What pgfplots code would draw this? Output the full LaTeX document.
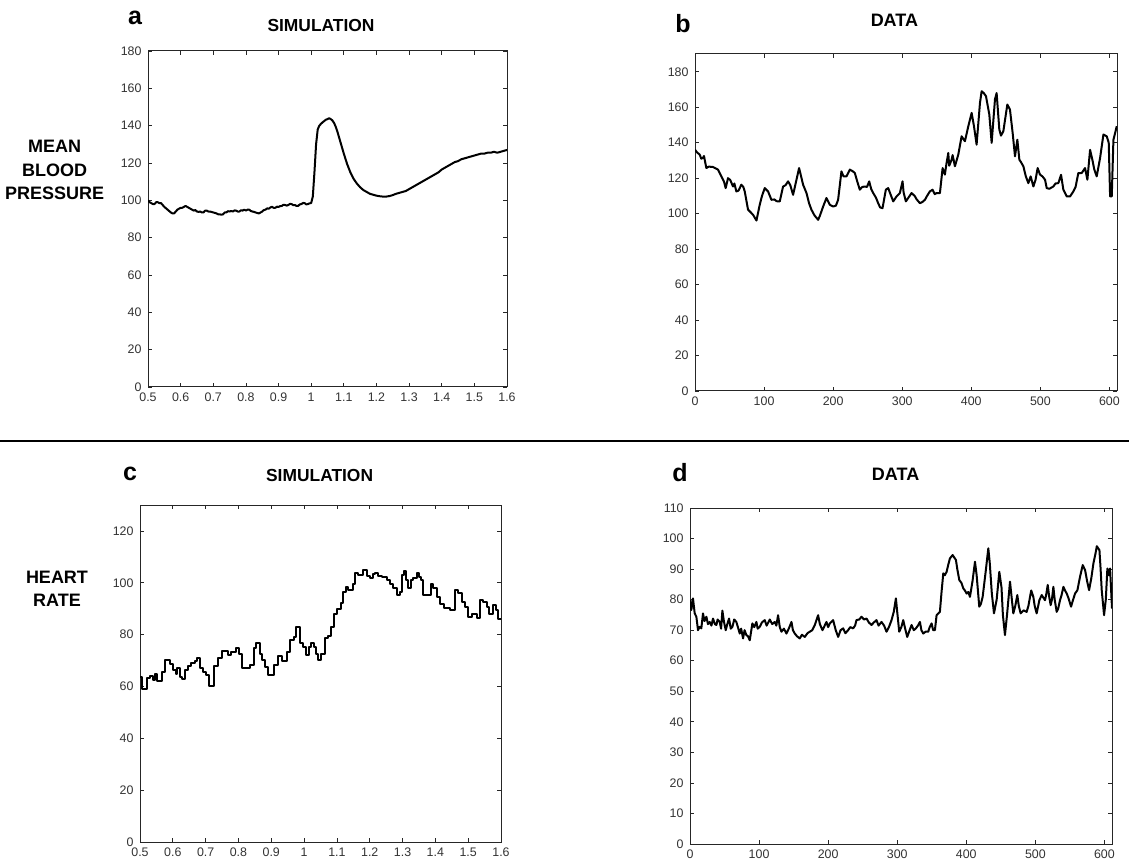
\documentclass[border=0pt]{standalone}
\usepackage{fontspec}
\setmainfont{Liberation Sans}
\usepackage{pgfplots}
\pgfplotsset{compat=1.18}
\pgfplotsset{mat/.style={
  scale only axis, anchor=south west,
  axis line style={line width=0.5pt, black!85},
  every tick/.style={line width=0.4pt, black!85},
  major tick length=2pt,
  tick align=inside,
  tick label style={font=\fontsize{6.2}{7}\selectfont, text=black!80},
  /pgf/number format/assume math mode=true,
  xticklabel style={yshift=0.8pt, text height=4.6pt, text depth=0pt},
  yticklabel style={xshift=0.3pt},
  clip=true,
}}
\pgfplotsset{crv/.style={black, line width=1pt, line join=round}}
\begin{document}
\begin{tikzpicture}
\useasboundingbox (0pt,0pt) rectangle (564.5pt,431.5pt);
% divider
\draw[line width=1pt] (0pt,211.1pt) -- (564.5pt,211.1pt);
% labels
\node[anchor=base, font=\bfseries\fontsize{12.5}{14}\selectfont, inner sep=0] at (67.5pt,419pt) {a};
\node[anchor=base, font=\bfseries\fontsize{8.7}{10}\selectfont, inner sep=0] at (160.5pt,415.5pt) {SIMULATION};
\node[anchor=base, font=\bfseries\fontsize{12.5}{14}\selectfont, inner sep=0] at (341.5pt,415pt) {b};
\node[anchor=base, font=\bfseries\fontsize{9}{10}\selectfont, inner sep=0] at (447.2pt,418.2pt) {DATA};
\node[anchor=base, font=\bfseries\fontsize{12.5}{14}\selectfont, inner sep=0] at (65pt,191.5pt) {c};
\node[anchor=base, font=\bfseries\fontsize{8.7}{10}\selectfont, inner sep=0] at (159.8pt,190.5pt) {SIMULATION};
\node[anchor=base, font=\bfseries\fontsize{12.5}{14}\selectfont, inner sep=0] at (340pt,190.5pt) {d};
\node[anchor=base, font=\bfseries\fontsize{9}{10}\selectfont, inner sep=0] at (447.8pt,191.5pt) {DATA};
\node[anchor=base, font=\bfseries\fontsize{9}{10}\selectfont, inner sep=0] at (27.3pt,355pt) {MEAN};
\node[anchor=base, font=\bfseries\fontsize{9}{10}\selectfont, inner sep=0] at (27.3pt,343pt) {BLOOD};
\node[anchor=base, font=\bfseries\fontsize{9}{10}\selectfont, inner sep=0] at (27.3pt,331.5pt) {PRESSURE};
\node[anchor=base, font=\bfseries\fontsize{9}{10}\selectfont, inner sep=0] at (28.5pt,140pt) {HEART};
\node[anchor=base, font=\bfseries\fontsize{9}{10}\selectfont, inner sep=0] at (28.5pt,128.5pt) {RATE};

% Panel a
\begin{axis}[mat, at={(74pt,238pt)}, width=179.5pt, height=168pt,
  xmin=0.5, xmax=1.6, ymin=0, ymax=180,
  xtick={0.5,0.6,0.7,0.8,0.9,1.0,1.1,1.2,1.3,1.4,1.5,1.6},
  xticklabels={0.5,0.6,0.7,0.8,0.9,1,1.1,1.2,1.3,1.4,1.5,1.6},
  ytick={0,20,...,180}]
\addplot[crv] coordinates {
(0.50,100) (0.505,99) (0.51,98.5) (0.515,98) (0.52,98) (0.525,99) (0.53,99) (0.535,98.5) (0.54,98.5)
(0.55,96.5) (0.56,95) (0.57,93.5) (0.575,93) (0.58,93) (0.585,94) (0.59,95) (0.595,95.5) (0.60,96) (0.605,96) (0.61,96.5) (0.615,97) (0.62,96.5)
(0.63,95.5) (0.64,94.5) (0.645,94.8) (0.65,94) (0.655,93.8) (0.66,94) (0.665,93.5) (0.67,93.5) (0.675,94.5) (0.68,94.5) (0.685,94) (0.69,94) (0.70,93.5)
(0.71,93) (0.715,92.5) (0.72,92.5) (0.725,92.3) (0.73,92.5) (0.735,93.5) (0.74,93.5) (0.745,94.2) (0.75,94) (0.755,94.3) (0.76,94) (0.765,94.6) (0.77,94.5)
(0.775,94) (0.78,94) (0.785,94.7) (0.79,94.5) (0.795,95) (0.80,94.5) (0.805,95) (0.81,95) (0.815,94.3) (0.82,94) (0.825,93.8) (0.83,93.5) (0.835,93.2) (0.84,93)
(0.845,93.5) (0.85,94) (0.855,94.8) (0.86,95) (0.865,95.7) (0.87,95.5) (0.875,96.2) (0.88,96.5) (0.885,96) (0.89,96) (0.895,96.6) (0.90,96.5)
(0.905,96.9) (0.91,97) (0.915,97.6) (0.92,97.5) (0.925,97.2) (0.93,97.5) (0.935,98.1) (0.94,98) (0.945,97.4) (0.95,97.5) (0.955,97) (0.96,97)
(0.965,97.8) (0.97,98) (0.975,98.6) (0.98,98.5) (0.985,97.8) (0.99,98) (0.995,98.4) (1.00,98.5) (1.005,102) (1.01,115) (1.015,130) (1.02,138)
(1.025,140) (1.03,141) (1.035,141.8) (1.04,142.5) (1.045,143.2) (1.05,143.5) (1.055,144) (1.06,143.5) (1.065,142.8) (1.07,141.5) (1.075,139.5) (1.08,137)
(1.085,134) (1.09,131) (1.10,125) (1.11,119.5) (1.12,115) (1.13,111.5) (1.14,109) (1.15,107) (1.16,105.5) (1.17,104.5) (1.18,103.5) (1.19,103)
(1.20,102.5) (1.21,102.2) (1.22,102) (1.23,102) (1.24,102.3) (1.25,102.8) (1.26,103.5) (1.27,104) (1.28,104.5) (1.29,105) (1.30,106)
(1.31,107) (1.32,108) (1.33,109) (1.34,110) (1.35,111) (1.36,112) (1.37,113) (1.38,114) (1.39,115) (1.40,116.5) (1.41,117.5) (1.42,118.5)
(1.43,119.5) (1.44,120.5) (1.45,121) (1.46,122) (1.47,122.5) (1.48,123) (1.49,123.5) (1.50,124) (1.51,124.5) (1.52,125) (1.53,125)
(1.54,125.5) (1.55,125.5) (1.56,126) (1.57,125.5) (1.58,126) (1.59,126.5) (1.60,127)
};
\end{axis}

% Panel b
\begin{axis}[mat, at={(347.5pt,236pt)}, width=211pt, height=168.5pt,
  xmin=0, xmax=611, ymin=0, ymax=190,
  xtick={0,100,...,600}, ytick={0,20,...,180}]
\addplot[crv] coordinates {
(0,136) (3,134.5) (6.8,133.3) (9,131) (11.6,131.4) (13,132.5) (16.4,125.7) (20,126.5) (26,126.3) (30,125.5) (33.3,124.8) (38.2,121) (42,118)
(44.4,114.4) (47.8,120) (51,119) (55,115.3) (57,117) (59.9,112.5) (63,113) (67.1,116.3) (70,115) (72,112.5) (76.8,102.2) (80,101) (84.1,99.3)
(89,96.1) (93.7,105) (97,110) (101,114.4) (105.8,112.5) (110.6,107.8) (115,108) (118,107) (122.7,106.9) (127.5,115.3) (131,116) (134.8,118.2)
(138,116) (142,110.6) (146.9,119.1) (150.7,125.7) (153,122) (156.5,116.3) (161.4,111.6) (165,106) (168.6,102.2) (173,99) (178.3,96.5)
(181,99) (185.5,104) (190.3,108.8) (195.2,105) (200,104) (204,104.5) (207.2,107.8) (212,123.8) (215,121) (219.3,121) (224.2,124.8) (228,124) (231.4,122.9)
(235,118) (238.6,113.5) (242,115) (245.9,115.3) (249,115) (252.2,118.2) (255,114) (258,111.6) (262,109) (265.2,105.9) (268,103.5) (271.5,103.1)
(276.3,113.5) (279.7,114.4) (283,111) (287,106.9) (291.8,109.7) (296.6,111.6) (300.5,118.2) (302,112) (305.3,106.9) (309,109) (313.5,111.6)
(318,110) (321,108) (325.6,105.9) (329,106.5) (332.9,107.8) (336,110) (340,112.5) (344,113.5) (347,111) (349.8,111.6) (354.6,111.6)
(358.5,125.7) (361.8,122) (364,128) (366.7,134.2) (368,127) (371.5,130.4) (373,133) (376.3,126.7) (381.2,133.3) (386,143.6) (390.8,140.8)
(395.7,149.3) (400.5,156.8) (403.9,149.3) (407.7,138.9) (412.6,162.5) (415,169) (418,168) (421.3,166.2) (426.1,155.9) (429.5,139.9)
(434.3,164.4) (436.7,168) (440.6,147.4) (443,144) (446.4,146.4) (452.2,161.5) (456,158.7) (459.9,145.5) (463.3,132.3) (466.7,141.7)
(469.6,130.4) (472,129) (475.4,126.7) (479,121) (482.6,117.2) (486,121) (489.9,115.3) (493,119) (496.1,125.7) (499.5,122) (503,121)
(506.8,119.1) (509.2,114.4) (513,114) (518.8,115.3) (522,117) (526.1,117.2) (530,121.9) (533.3,113.5) (538.2,109.7) (543,109.7)
(547.8,112.5) (551,115) (555,122.9) (559.9,122.9) (564.7,125.7) (568.1,119.1) (572,136) (575.8,129.5) (578,125) (581.6,121) (586.5,131.4)
(591.3,144.6) (596.1,143.6) (599,140) (601,109.7) (603.4,109.7) (605.8,141.7) (608,145) (610.6,149.3)
};
\end{axis}

% Panel c
\begin{axis}[mat, at={(70pt,10.5pt)}, width=180.5pt, height=168.5pt,
  xmin=0.5, xmax=1.6, ymin=0, ymax=130,
  xtick={0.5,0.6,0.7,0.8,0.9,1.0,1.1,1.2,1.3,1.4,1.5,1.6},
  xticklabels={0.5,0.6,0.7,0.8,0.9,1,1.1,1.2,1.3,1.4,1.5,1.6},
  ytick={0,20,...,120}]
\addplot[crv, const plot] coordinates {
(0.5,63.7) (0.5071,59.2) (0.5213,63.1) (0.5315,64) (0.5396,62.4) (0.5447,65) (0.5518,62.2) (0.5671,65.7) (0.5752,70.2)
(0.5925,68.6) (0.6006,66.3) (0.6088,65) (0.6128,67.2) (0.6210,63.5) (0.6291,62.7) (0.6383,66.3) (0.6464,67.8) (0.6566,69.1)
(0.6667,69.8) (0.6738,70.8) (0.6820,67.2) (0.6921,65.7) (0.7023,64.6) (0.7104,60.3) (0.7247,67.8) (0.7379,70.8) (0.7501,73.7)
(0.7684,72) (0.7786,73.4) (0.7918,75) (0.8019,72.7) (0.8121,67.2) (0.8345,68.2) (0.8467,75) (0.8548,76.6) (0.8650,72.7)
(0.8731,70.2) (0.8822,67.6) (0.8904,64.4) (0.9077,68.2) (0.9209,71.7) (0.9341,69.9) (0.9483,73.4) (0.9585,77.9) (0.9687,79.1)
(0.9768,83) (0.9890,76.6) (0.9971,75.3) (1.0053,72.3) (1.0154,75.3) (1.0225,76.8) (1.0297,75.3) (1.0358,72.7) (1.0429,70.4)
(1.0530,72.7) (1.0632,78.8) (1.0734,79.4) (1.0835,83) (1.0906,88.1) (1.0988,89.7) (1.1110,92.3) (1.1191,96.5) (1.1272,98.4)
(1.1344,97.1) (1.1476,99.7) (1.1547,103.6) (1.1649,102.9) (1.1781,105.1) (1.1903,102.5) (1.2004,102) (1.2086,103.2) (1.2157,103.8)
(1.2258,102.5) (1.2360,102.2) (1.2513,101) (1.2614,99.4) (1.2716,97.8) (1.2818,95.2) (1.2919,96.5) (1.2970,102.9) (1.3041,104.5)
(1.3102,101) (1.3173,97.8) (1.3244,101) (1.3326,102) (1.3427,103.8) (1.3488,102.2) (1.3550,101) (1.3631,95.2) (1.3855,99.7)
(1.3936,97.8) (1.4038,94.6) (1.4139,92) (1.4261,90.3) (1.4444,89.4) (1.4597,97.1) (1.4698,95.9) (1.4800,92.6) (1.4902,90.7)
(1.5003,86.9) (1.5105,87.9) (1.5257,86.6) (1.5359,93.5) (1.5440,92.6) (1.5562,90.7) (1.5644,88.1) (1.5745,91.4) (1.5847,89.4)
(1.5918,86.2) (1.6,86.2)
};
\end{axis}

% Panel d
\begin{axis}[mat, at={(345pt,9.5pt)}, width=211pt, height=168pt,
  xmin=0, xmax=611, ymin=0, ymax=110,
  xtick={0,100,...,600}, ytick={0,10,...,110}]
\addplot[crv] coordinates {
(0,79.8) (1.9,76.6) (4.3,80.4) (6.8,75.5) (9.2,74.4) (11.6,70) (14,71.1) (16.4,70.6) (18.8,75.5) (21,73) (23.7,74.4) (26,72) (28.5,72.7)
(31,71.5) (33.3,73.8) (36,72) (38.2,71.7) (40,73.5) (43,72.7) (45,70.5) (46.9,76.4) (49,73) (51.7,70) (54,72) (56.5,73.8) (59,70.5) (61.4,71.1)
(64,73.5) (67.1,72.7) (70,70.5) (72,68.9) (74,70.5) (76.8,67.3) (79,70) (81.6,68.4) (84,68) (86.5,66.7) (90.3,72.2) (93,71) (96.1,72.7)
(98,70.5) (101,71.1) (104,72.5) (108.2,73.3) (111,71.5) (115.5,73.5) (119,72) (122.7,72.7) (125,71.5) (127.5,74.9) (130,71) (132.4,69.5)
(136,70.5) (139.6,68.9) (143,70.5) (146.9,72.7) (149,70) (151.7,68.9) (155,68) (158.9,67.3) (162,68.5) (166.2,67.8) (170,69) (173.4,69.5)
(177,70) (180.7,71.7) (185.5,74.9) (188,72) (191.8,70) (195,71.5) (197.6,72.7) (200,71) (202.4,72.2) (205,72.8) (207.2,73.3) (211,70)
(214.5,67.8) (218,70) (221.7,70.6) (225,69) (228.9,70) (232,71) (236.2,70.6) (239,71.5) (241,73.3) (245,73.5) (248.3,74.4) (252,73.5)
(255.6,73.8) (259,72.5) (262.8,71.7) (266,72.5) (270,73.3) (273,71.5) (277.3,72.7) (281,71.5) (284.5,69.5) (288,71) (291.8,73.3)
(295,76) (298.1,80.4) (300,76) (302.9,69.5) (306,71) (308.7,73.3) (311,71) (314.5,67.8) (318,70) (320.8,71.7) (324,70) (327.1,70.6)
(330,71.5) (332.9,72.7) (335,70) (337.7,68.9) (341,69.5) (344.9,69.5) (347,71) (349.8,72.2) (352,70) (354.6,70) (357,74.9) (361.8,76)
(364,82) (366.7,88.6) (369,88) (371.5,89.1) (374,91.5) (376.3,93.5) (380.2,94.6) (385,93) (387,90) (389.9,86.4) (393,85.5) (395.7,83.7)
(398,83) (400.5,82) (403,82.5) (405.3,80.9) (409,86) (412.6,92.4) (415,88) (418.8,77.7) (421,78.5) (423.7,80.9) (428,89) (431.9,96.8)
(434,92) (437,82) (440.1,75.5) (444,80) (447.8,89.1) (451,84) (453,75) (456,68.4) (459,75) (463.3,85.9) (466,80) (468.1,75.5)
(471,78) (473.9,81.5) (476,78) (478.7,75.5) (483,76.5) (487.4,76) (490,78) (492.3,80.9) (494,83) (497.1,80.9) (499,78) (501.9,75.5)
(505.8,79.8) (509.2,81.5) (512,80.5) (514,79.8) (516,82) (517.9,84.8) (520,81) (522.2,78.2) (524,80) (526.1,84.2) (528,80) (530.9,76)
(533,77) (535.7,79.8) (538,81.5) (540.6,84.2) (543,83) (545.4,82) (548,80.5) (551.7,77.7) (554,79.5) (557.5,82) (560.9,83.1) (564.7,87.5)
(568.6,91.3) (572,89.7) (575,86) (577.8,83.1) (581,87) (584.1,91.9) (587,95) (589,97.5) (592.8,96.2) (594.5,90) (596.1,83.1) (599.5,74.9)
(602,80) (604.3,90.2) (606,88) (608.2,90.2) (611,77.1)
};
\end{axis}
\end{tikzpicture}
\end{document}
